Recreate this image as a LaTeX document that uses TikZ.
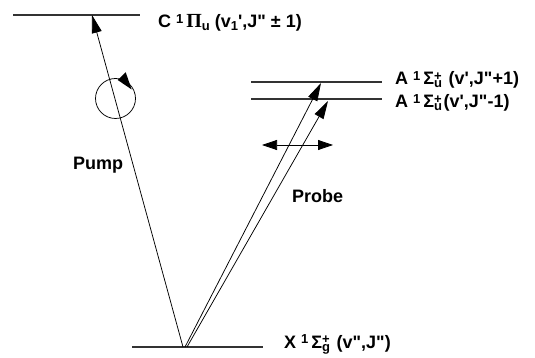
\documentclass[tikz,border=0pt]{standalone}
\usepackage{fontspec}
\setmainfont{Liberation Sans}[Ligatures=TeXOff]
\newfontfamily\grk{Liberation Serif}
\usetikzlibrary{arrows.meta}
\newcommand\up[1]{\raisebox{4.5pt}{\fontsize{13}{13}\selectfont#1}}
\newcommand\dn[1]{\raisebox{-3pt}{\fontsize{13}{13}\selectfont#1}}
\newcommand\updn[2]{\rlap{\up{#1}}\dn{#2}\hspace{1.5pt}}

\begin{document}
\begin{tikzpicture}[x=1pt,y=-1pt,every node/.style={font=\fontsize{18}{21}\selectfont\bfseries,inner sep=0},
  level/.style={black!80,line width=1.3pt},
  beam/.style={line width=.75pt,-{Triangle[length=18pt,width=10pt]}}]
\useasboundingbox (0,0) rectangle (535,358);
% energy levels
\coordinate (cl) at (13,15); \coordinate (cr) at (140,15);
\coordinate (al) at (251,82); \coordinate (ar) at (382,82);
\coordinate (bl) at (251,99); \coordinate (br) at (382,99);
\coordinate (xl) at (132,347); \coordinate (xr) at (263,347);
\draw[level] (cl)--(cr);
\draw[level] (al)--(ar);
\draw[level] (bl)--(br);
\draw[level] (xl)--(xr);
\node[anchor=base west] (ctxt) at (158,28){C \up{1}\,{\grk\fontsize{20}{21}\selectfont Π}\dn{u} (v\dn{1}',J" ± 1)};
\node[anchor=base west] (atxt) at (395,85){A \up{1}\,Σ\updn{+}{u} (v',J"+1)};
\node[anchor=base west] (btxt) at (395,108){A \up{1}\,Σ\updn{+}{u}(v',J"-1)};
\node[anchor=base west] (xtxt) at (284,348){X \up{1}\,Σ\updn{+}{g} (v",J")};
% pump
\coordinate (p0) at (183,347); \coordinate (p1) at (92,15);
\draw[beam] (p0)--(p1);
\node[draw,circle,minimum size=40pt,line width=.75pt] (pol) at (115.5,98.5){};
\fill (117.7,80)--(125.7,72.3)--(131.7,89.5)--cycle; % polarisation sense
\node[anchor=base west] (pump) at (73,170){Pump};
% probe
\coordinate (q0) at (185,347); \coordinate (q1) at (321,83);
\coordinate (r0) at (187,347); \coordinate (r1) at (328,101);
\draw[beam] (q0)--(q1);
\draw[beam] (r0)--(r1);
\coordinate (h0) at (262,145); \coordinate (h1) at (333,145);
\draw[line width=.75pt,{Triangle[length=15pt,width=10pt]}-{Triangle[length=15pt,width=10pt]}] (h0)--(h1);
\node[anchor=base west] (probe) at (292,203){Probe};
\end{tikzpicture}
\end{document}
